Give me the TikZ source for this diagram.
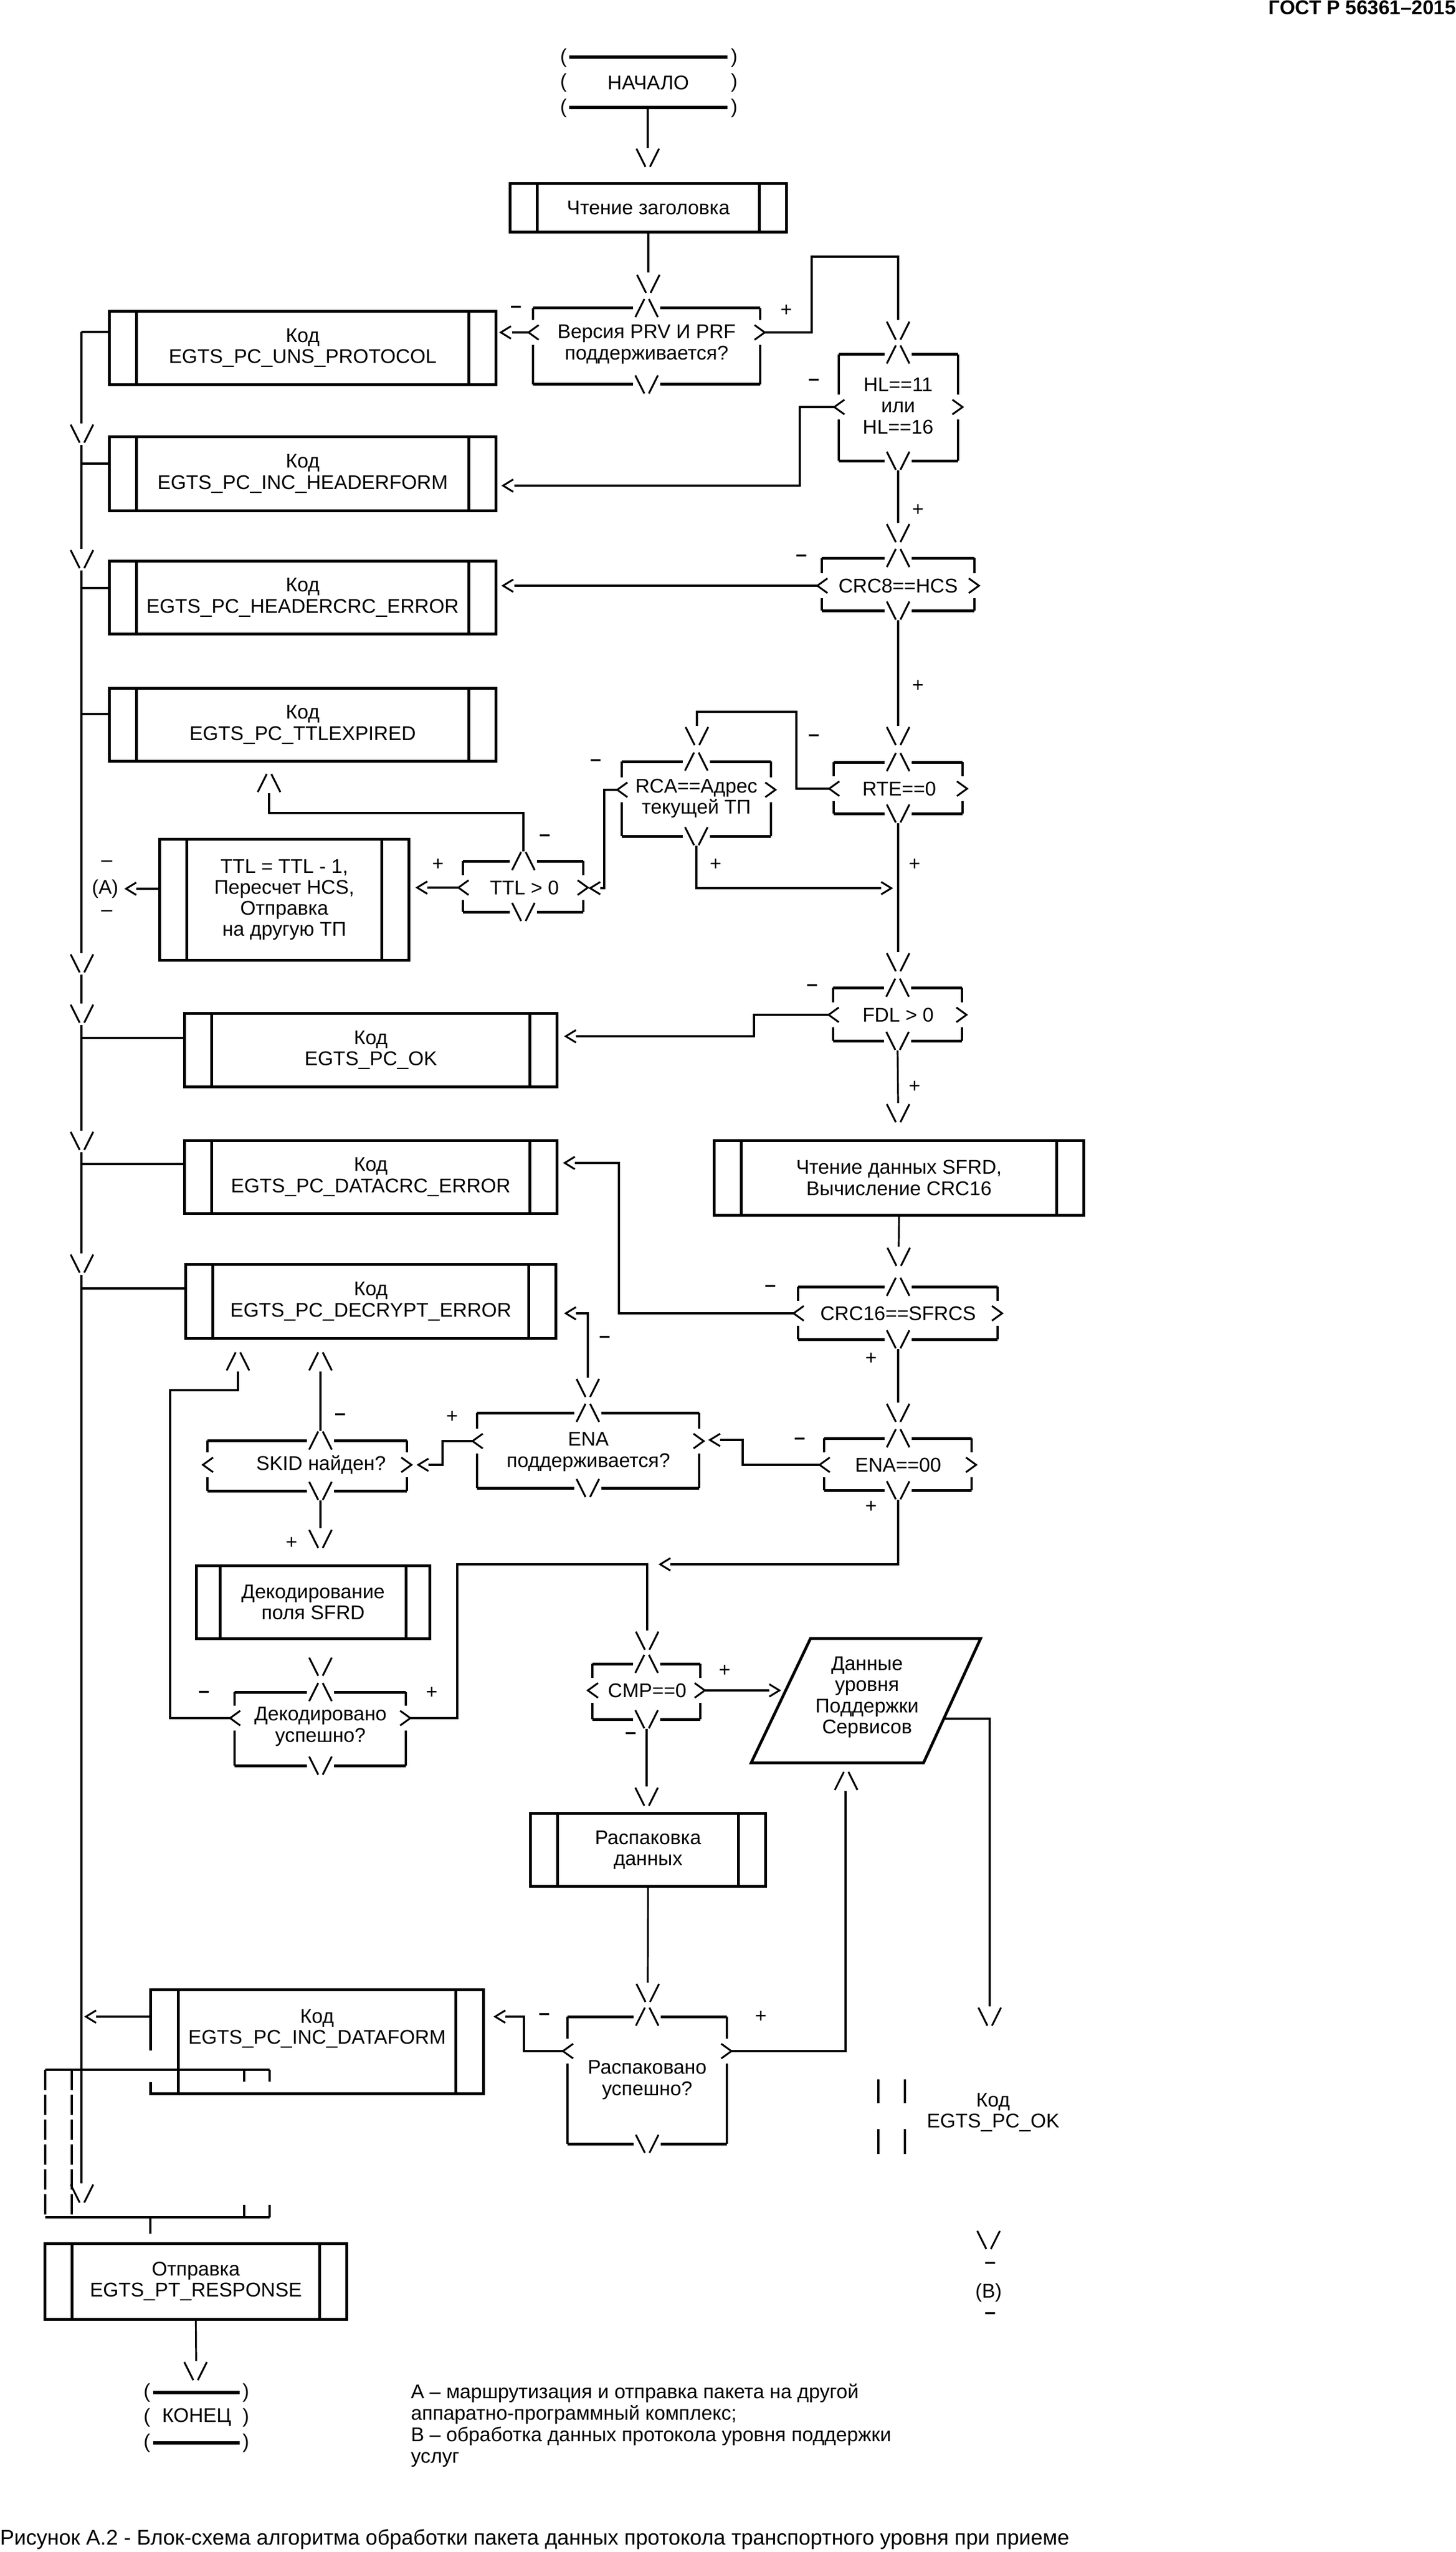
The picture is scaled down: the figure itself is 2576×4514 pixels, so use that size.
\documentclass[tikz,border=0pt]{standalone}
\usepackage{fontspec}
\setmainfont{Liberation Sans}
\usetikzlibrary{calc}

\tikzset{
  conn/.style={line width=0.32mm},
  glyph/.style={line width=0.32mm},
  boxline/.style={line width=0.5mm},
  dedge/.style={line width=0.5mm},
  dside/.style={line width=0.36mm},
  thickbar/.style={line width=0.6mm},
  txt/.style={font=\fontsize{10}{10.6}\selectfont, align=center, inner sep=0pt, outer sep=0pt},
  sign/.style={txt, font=\fontsize{10}{10.6}\selectfont\bfseries},
  stripw/.store in=\stripw, stripw=4.8mm,
  procbox/.style={draw, line width=0.5mm, txt,
    path picture={\draw[line width=0.5mm]
      ([xshift=\stripw]path picture bounding box.north west) -- ([xshift=\stripw]path picture bounding box.south west)
      ([xshift=-\stripw]path picture bounding box.north east) -- ([xshift=-\stripw]path picture bounding box.south east);}},
}

% "\/" and "/\" marks, "<" and ">" tips
\newcommand\vdn[2]{\draw[glyph] (#1-20,#2-16) -- (#1-4,#2+16) (#1+20,#2-16) -- (#1+4,#2+16);}
\newcommand\vup[2]{\draw[glyph] (#1-20,#2+16) -- (#1-4,#2-16) (#1+20,#2+16) -- (#1+4,#2-16);}
\newcommand\ltip[2]{\draw[glyph] (#1+18,#2-11) -- (#1,#2) -- (#1+18,#2+11);}
\newcommand\rtip[2]{\draw[glyph] (#1-18,#2-11) -- (#1,#2) -- (#1-18,#2+11);}

% process box: name, x1, y1, x2, y2, text
\newcommand\pbox[7][]{%
  \pgfmathsetmacro\pbw{(#5-#3)/10-0.5}%
  \pgfmathsetmacro\pbh{(#6-#4)/10-0.5}%
  \node[procbox, minimum width=\pbw mm, minimum height=\pbh mm, #1] (#2) at ({(#3+#5)/2},{(#4+#6)/2}) {#7};}

% decision frame: name, xl, xr, ytop, ybottom, ysides, xcentre
\newcommand\decis[7]{%
  \draw[dedge] (#2,#4) -- (#7-24,#4) (#7+24,#4) -- (#3,#4)
               (#2,#5) -- (#7-24,#5) (#7+24,#5) -- (#3,#5);
  \draw[dside] (#2,#4) -- (#2,#6-22) (#2,#6+22) -- (#2,#5)
               (#3,#4) -- (#3,#6-22) (#3,#6+22) -- (#3,#5);
  \draw[glyph] (#2+10,#6-13) -- (#2-8,#6) -- (#2+10,#6+13)
               (#3-10,#6-13) -- (#3+8,#6) -- (#3-10,#6+13);
  \vup{#7}{#4}\vdn{#7}{#5}%
  \coordinate (#1-l) at (#2-8,#6);
  \coordinate (#1-r) at (#3+8,#6);
  \coordinate (#1-t) at (#7,#4-17);
  \coordinate (#1-b) at (#7,#5+17);}

\begin{document}
\begin{tikzpicture}[x=0.1mm, y=-0.1mm]
\useasboundingbox (0,0) rectangle (2576,4514);

\node[txt, font=\fontsize{10}{12}\selectfont\bfseries, anchor=east] (gost) at (2576,13) {ГОСТ Р 56361–2015};

% start
\node[txt] (start) at (1147,146) {НАЧАЛО};
\foreach \yy in {102,146,191} {
  \node[txt] at (997,\yy) {(};
  \node[txt] at (1299,\yy) {)};
}
\draw[thickbar] (1007,101) -- (1287,101) (1007,190) -- (1287,190);
\draw[conn] (1146,193) -- (1146,262);
\vdn{1146}{279}

\pbox{read}{900}{322}{1394}{413}{Чтение заголовка}
\draw[conn] (read.south) -- (1147,482);
\vdn{1147}{502}

% version check
\decis{qver}{943}{1345}{545}{680}{588}{1144}
\node[txt] (ver) at (1144,609) {Версия PRV И PRF\\поддерживается?};
\node[sign] at (913,547) {–};
\node[txt] at (1391,549) {+};
\draw[conn] (qver-l) -- (906,588);
\ltip{886}{588}
\draw[conn] (qver-r) -- (1436,588) -- (1436,454) -- (1589,454) -- (1589,566);
\vdn{1589}{585}

% header length
\decis{qhl}{1484}{1695}{627}{815}{720}{1589}
\node[txt] (hl) at (1589,718) {HL==11\\или\\HL==16};
\node[sign] at (1440,676) {–};
\draw[conn] (qhl-l) -- (1415,720) -- (1415,859) -- (910,859);
\ltip{890}{859}
\draw[conn] (qhl-b) -- (1589,925);
\node[txt] at (1624,902) {+};
\vdn{1589}{943}

% header crc
\decis{qcrc8}{1454}{1724}{987}{1080}{1036}{1589}
\node[txt] (crc8) at (1589,1036) {CRC8==HCS};
\node[sign] at (1418,987) {–};
\draw[conn] (qcrc8-l) -- (910,1036);
\ltip{890}{1036}
\draw[conn] (qcrc8-b) -- (1589,1284);
\node[txt] at (1624,1213) {+};
\vdn{1589}{1302}

% routing
\decis{qrte}{1475}{1703}{1348}{1439}{1395}{1589}
\node[txt] (rte) at (1591,1395) {RTE==0};
\node[sign] at (1440,1305) {–};
\draw[conn] (qrte-l) -- (1409,1395) -- (1409,1259) -- (1233,1259) -- (1233,1284);
\vdn{1233}{1302}

\decis{qrca}{1100}{1364}{1347}{1479}{1397}{1232}
\node[txt] (rca) at (1232,1412) {RCA==Адрес\\текущей ТП};
\node[sign] at (1054,1349) {–};
\draw[conn] (qrca-l) -- (1069,1397) -- (1069,1571) -- (1062,1571);
\ltip{1044}{1571}
\draw[conn] (qrca-b) -- (1232,1571) -- (1559,1571);
\rtip{1577}{1571}
\node[txt] at (1266,1529) {+};
\draw[conn] (qrte-b) -- (1589,1684);
\node[txt] at (1618,1529) {+};
\vdn{1589}{1702}

% ttl
\decis{qttl}{819}{1032}{1523}{1613}{1570}{926}
\node[txt] (ttl) at (928,1570) {TTL > 0};
\node[sign] at (964,1482) {–};
\node[txt] at (775,1529) {+};
\draw[conn] (qttl-t) -- (926,1438) -- (476,1438) -- (476,1403);
\vup{476}{1385}
\draw[conn] (qttl-l) -- (756,1570);
\ltip{738}{1570}
\pbox{ttlbox}{280}{1482}{726}{1701}{TTL = TTL - 1,\\Пересчет HCS,\\Отправка\\на другую ТП}
\draw[conn] (280,1572) -- (241,1572);
\ltip{223}{1572}
\node[txt] (refa) at (186,1572) {(А)};
\node[txt] at (189,1527) {–};
\node[txt] at (189,1615) {–};

% code boxes on the left
\pbox{uns}{191}{548}{880}{683}{Код\\EGTS\_PC\_UNS\_PROTOCOL}
\pbox{inchdr}{191}{770}{880}{906}{Код\\EGTS\_PC\_INC\_HEADERFORM}
\pbox{hdrcrc}{191}{990}{880}{1124}{Код\\EGTS\_PC\_HEADERCRC\_ERROR}
\pbox{ttlexp}{191}{1215}{880}{1349}{Код\\EGTS\_PC\_TTLEXPIRED}
\pbox{pcok}{324}{1790}{988}{1925}{Код\\EGTS\_PC\_OK}
\pbox{datacrc}{324}{2015}{988}{2149}{Код\\EGTS\_PC\_DATACRC\_ERROR}
\pbox{decrypt}{326}{2234}{986}{2370}{Код\\EGTS\_PC\_DECRYPT\_ERROR}

% left trunk
\draw[conn] (144,587) -- (144,749) (144,787) -- (144,971) (144,1009) -- (144,1686)
  (144,1724) -- (144,1775) (144,1813) -- (144,2000) (144,2038) -- (144,2217)
  (144,2255) -- (144,3862);
\foreach \yy in {767,989,1704,1793,2018,2235,3880} { \vdn{145}{\yy} }
\foreach \yy/\xx in {587/191,820/191,1040/191,1263/191,1836/324,2059/324,2279/326} {
  \draw[conn] (144,\yy) -- (\xx,\yy);
}

% data length
\decis{qfdl}{1474}{1702}{1747}{1841}{1795}{1588}
\node[txt] (fdl) at (1589,1795) {FDL > 0};
\node[sign] at (1437,1747) {–};
\draw[conn] (qfdl-l) -- (1334,1795) -- (1334,1833) -- (1019,1833);
\ltip{1001}{1833}
\draw[conn] (qfdl-b) -- (1589,1951);
\node[txt] at (1618,1922) {+};
\vdn{1589}{1969}

\pbox{sfrd}{1261}{2015}{1920}{2152}{Чтение данных SFRD,\\Вычисление CRC16}
\draw[conn] (sfrd.south) -- (1590,2205);
\vdn{1590}{2223}

% data crc
\decis{qcrcs}{1412}{1765}{2276}{2369}{2323}{1589}
\node[txt] (crcs) at (1589,2323) {CRC16==SFRCS};
\node[sign] at (1363,2279) {–};
\node[txt] at (1541,2403) {+};
\draw[conn] (qcrcs-l) -- (1095,2323) -- (1095,2057) -- (1017,2057);
\ltip{999}{2057}
\draw[conn] (qcrcs-b) -- (1589,2481);
\vdn{1589}{2499}

% encryption
\decis{qenaz}{1458}{1719}{2544}{2636}{2591}{1589}
\node[txt] (enaz) at (1589,2591) {ENA==00};
\node[sign] at (1415,2549) {–};
\node[txt] at (1541,2665) {+};
\draw[conn] (qenaz-l) -- (1314,2591) -- (1314,2547) -- (1274,2547);
\ltip{1256}{2547}
\draw[conn] (qenaz-b) -- (1589,2767) -- (1186,2767);
\ltip{1168}{2767}

\decis{qena}{844}{1237}{2499}{2632}{2549}{1040}
\node[txt] (ena) at (1041,2568) {ENA\\поддерживается?};
\node[txt] at (800,2506) {+};
\vdn{1040}{2455}
\draw[conn] (1040,2437) -- (1040,2323) -- (1019,2323);
\ltip{1001}{2323}
\node[sign] at (1070,2369) {–};
\draw[conn] (qena-l) -- (783,2549) -- (783,2591) -- (758,2591);
\ltip{740}{2591}

\decis{qskid}{367}{720}{2548}{2637}{2591}{567}
\node[txt] (skid) at (568,2591) {SKID найден?};
\node[sign] at (602,2506) {–};
\draw[conn] (qskid-t) -- (567,2426);
\vup{567}{2408}
\draw[conn] (qskid-b) -- (567,2703);
\node[txt] at (516,2729) {+};
\vdn{567}{2722}

\pbox[stripw=4.2mm]{decode}{345}{2767}{763}{2901}{Декодирование\\поля SFRD}

\vdn{567}{2948}
\decis{qdec}{415}{718}{2993}{3123}{3039}{567}
\node[txt] (dec) at (567,3054) {Декодировано\\успешно?};
\node[sign] at (361,2997) {–};
\node[txt] at (764,2994) {+};
\draw[conn] (qdec-l) -- (301,3039) -- (301,2459) -- (421,2459) -- (421,2426);
\vup{421}{2408}
\draw[conn] (qdec-r) -- (809,3039) -- (809,2767) -- (1145,2767) -- (1145,2884);
\vdn{1145}{2902}

% compression
\decis{qcmp}{1048}{1239}{2943}{3041}{2990}{1144}
\node[txt] (cmp) at (1145,2990) {CMP==0};
\node[txt] at (1282,2955) {+};
\node[sign] at (1116,3070) {–};
\draw[conn] (qcmp-r) -- (1361,2990);
\rtip{1379}{2990}
\draw[conn] (qcmp-b) -- (1144,3160);
\vdn{1144}{3178}

\draw[boxline] (1434,2898) -- (1735,2898) -- (1634,3118) -- (1329,3118) -- cycle;
\node[txt] (svc) at (1534,3002) {Данные\\уровня\\Поддержки\\Сервисов};
\draw[conn] (1670,3040) -- (1751,3040) -- (1751,3549);
\vdn{1751}{3567}

\pbox{unpack}{936}{3205}{1357}{3339}{Распаковка\\данных}
\draw[conn] (unpack.south) -- (1146,3507);
\vdn{1146}{3525}

\decis{qunp}{1004}{1286}{3567}{3792}{3628}{1145}
\node[txt] (unp) at (1145,3679) {Распаковано\\успешно?};
\node[sign] at (963,3567) {–};
\node[txt] at (1346,3567) {+};
\draw[conn] (qunp-l) -- (927,3628) -- (927,3567) -- (894,3567);
\ltip{876}{3567}
\draw[conn] (qunp-r) -- (1496,3628) -- (1496,3168);
\vup{1497}{3150}

% incorrect data format box, left side broken
\draw[boxline] (266,3627) -- (266,3519) -- (855,3519) -- (855,3703) -- (266,3703) -- (266,3683);
\draw[boxline] (315,3519) -- (315,3703) (806,3519) -- (806,3703);
\node[txt] (incdata) at (561,3588) {Код\\EGTS\_PC\_INC\_DATAFORM};
\draw[conn] (266,3567) -- (170,3567);
\ltip{152}{3567}

% merge bracket
\draw[line width=0.4mm] (80,3661) -- (477,3661) (80,3922) -- (477,3922)
  (432,3661) -- (432,3682) (477,3661) -- (477,3682)
  (432,3900) -- (432,3922) (477,3900) -- (477,3922);
\draw[line width=0.4mm, dash pattern=on 3.6mm off 0.8mm] (80,3661) -- (80,3922) (127,3661) -- (127,3922);
\draw[conn] (266,3922) -- (266,3951);

\pbox{resp}{77}{3966}{616}{4105}{Отправка\\EGTS\_PT\_RESPONSE}
\draw[conn] (resp.south) -- (347,4176);
\vdn{346}{4194}

% end
\node[txt] (stop) at (348,4276) {КОНЕЦ};
\foreach \yy in {4232,4276,4321} {
  \node[txt] at (260,\yy) {(};
  \node[txt] at (435,\yy) {)};
}
\draw[thickbar] (271,4232) -- (424,4232) (271,4321) -- (424,4321);

% service level data, right bottom
\draw[conn] (1554,3678) -- (1554,3720) (1601,3678) -- (1601,3720)
  (1554,3766) -- (1554,3810) (1601,3766) -- (1601,3810);
\node[txt] (okb) at (1757,3736) {Код\\EGTS\_PC\_OK};
\vdn{1749}{3962}
\node[sign] at (1752,4007) {–};
\node[txt] (refb) at (1749,4055) {(В)};
\node[sign] at (1752,4096) {–};

\node[txt, font=\fontsize{10}{10.8}\selectfont, align=left, anchor=west] (legend) at (727,4290)
  {А – маршрутизация и отправка пакета на другой\\аппаратно-программный комплекс;\\В – обработка данных протокола уровня поддержки\\услуг};
\node[txt, font=\fontsize{10.7}{12}\selectfont, anchor=west] (caption) at (0,4492) {Рисунок А.2 - Блок-схема алгоритма обработки пакета данных протокола транспортного уровня при приеме};
\end{tikzpicture}
\end{document}
